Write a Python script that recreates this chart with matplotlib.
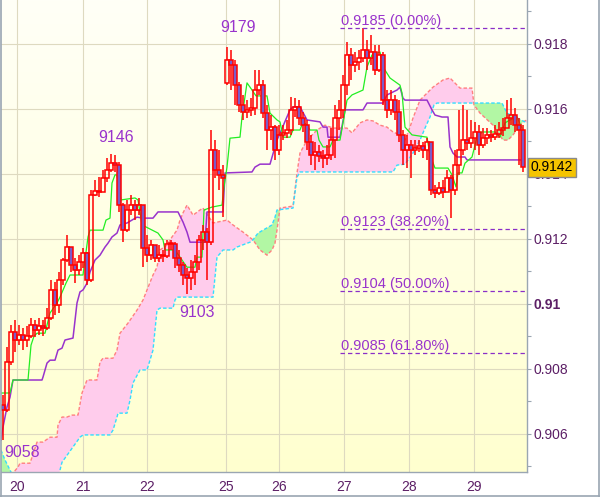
#!/usr/bin/env python3

"""
Hourly candles with ichimoku lines, cloud and fibo levels
"""

import numpy as np
import matplotlib.pyplot as plt
from matplotlib.lines import Line2D
from matplotlib.colors import LinearSegmentedColormap
from matplotlib.ticker import FixedLocator, FixedFormatter

plt.rcParams["font.family"] = ["Liberation Sans", "DejaVu Sans"]

#############################################################
######################### Data ##############################
#############################################################

# prices in pips (1 pip = 0.0001)
closes = [9067.3, 9082.1, 9091.3, 9088.9, 9090.4, 9088.9, 9090.1, 9093.5, 9092.0, 9093.2,
          9092.6, 9095.7, 9104.3, 9099.7, 9107.3, 9113.5, 9117.5, 9112.0, 9110.4, 9112.9,
          9115.7, 9107.3, 9133.5, 9134.7, 9134.4, 9138.7, 9141.2, 9143.3, 9142.7, 9130.4,
          9122.7, 9128.9, 9130.4, 9128.9, 9130.4, 9117.2, 9115.0, 9118.1, 9114.1, 9115.0,
          9114.7, 9118.4, 9118.4, 9114.1, 9112.0, 9108.9, 9108.0, 9109.8, 9112.9, 9119.7,
          9122.1, 9119.0, 9147.3, 9141.2, 9139.7, 9138.7, 9175.0, 9173.5, 9167.3, 9161.2,
          9159.0, 9159.7, 9160.3, 9165.8, 9167.3, 9158.7, 9153.5, 9154.4, 9147.3, 9152.0,
          9152.6, 9153.5, 9159.7, 9160.6, 9157.2, 9155.0, 9149.8, 9145.8, 9146.7, 9145.5,
          9144.9, 9145.8, 9150.4, 9157.2, 9159.7, 9167.3, 9176.6, 9173.5, 9174.4, 9175.7,
          9178.1, 9175.7, 9177.5, 9172.0, 9176.6, 9162.7, 9159.7, 9162.7, 9159.0, 9152.0,
          9147.3, 9148.9, 9147.3, 9148.0, 9148.6, 9147.3, 9149.8, 9135.0, 9134.1, 9135.7,
          9134.4, 9138.7, 9135.0, 9142.7, 9147.3, 9150.4, 9149.5, 9151.0, 9152.9, 9148.9,
          9151.0, 9152.0, 9151.4, 9152.3, 9153.5, 9154.1, 9157.2, 9158.1, 9155.0, 9153.5,
          9142.0]
highs = [9072.0, 9086.7, 9093.5, 9095.0, 9093.5, 9092.6, 9093.2, 9095.7, 9095.0, 9095.7,
         9095.0, 9098.7, 9107.3, 9106.7, 9109.8, 9114.1, 9121.2, 9116.6, 9114.1, 9115.0,
         9117.2, 9116.0, 9135.0, 9138.1, 9139.0, 9141.2, 9144.9, 9146.0, 9145.8, 9143.7,
         9131.0, 9132.0, 9133.5, 9132.0, 9132.6, 9130.4, 9121.2, 9119.7, 9116.6, 9118.1,
         9116.6, 9119.7, 9119.7, 9119.0, 9116.6, 9112.9, 9111.0, 9113.5, 9115.0, 9121.2,
         9124.3, 9123.3, 9153.5, 9150.4, 9147.3, 9142.7, 9179.0, 9178.1, 9175.0, 9168.3,
         9164.3, 9162.7, 9163.3, 9172.0, 9172.0, 9168.9, 9161.2, 9158.1, 9155.0, 9155.0,
         9155.0, 9156.6, 9163.7, 9163.3, 9162.7, 9159.0, 9156.6, 9152.0, 9149.8, 9148.9,
         9147.3, 9148.9, 9154.1, 9161.2, 9162.7, 9170.4, 9180.6, 9178.7, 9177.5, 9178.1,
         9185.0, 9181.2, 9182.7, 9179.7, 9179.7, 9177.5, 9165.8, 9165.8, 9164.3, 9162.7,
         9153.5, 9152.0, 9150.4, 9150.4, 9150.4, 9149.8, 9151.0, 9149.8, 9136.6, 9137.5,
         9138.1, 9141.2, 9139.7, 9147.3, 9159.7, 9161.2, 9159.7, 9156.6, 9156.0, 9155.0,
         9154.1, 9154.1, 9153.5, 9155.0, 9156.0, 9157.2, 9162.7, 9163.3, 9160.3, 9157.2,
         9155.0]
lows = [9058.0, 9066.7, 9081.2, 9085.2, 9087.3, 9085.8, 9086.7, 9089.5, 9089.8, 9090.4,
        9090.1, 9092.0, 9095.0, 9096.6, 9097.2, 9105.8, 9112.9, 9109.8, 9106.4, 9108.9,
        9111.0, 9105.8, 9106.7, 9133.2, 9132.9, 9134.4, 9137.5, 9140.6, 9140.6, 9128.3,
        9119.0, 9122.1, 9127.3, 9125.8, 9127.3, 9111.3, 9112.9, 9113.5, 9112.9, 9112.9,
        9112.9, 9114.1, 9116.6, 9111.0, 9109.8, 9105.8, 9103.0, 9104.3, 9105.8, 9110.4,
        9116.6, 9107.3, 9118.1, 9138.7, 9135.0, 9126.7, 9167.3, 9165.8, 9161.2, 9159.0,
        9156.6, 9157.2, 9157.8, 9158.1, 9164.3, 9157.2, 9147.3, 9150.4, 9144.3, 9145.8,
        9150.4, 9151.0, 9152.0, 9157.5, 9155.0, 9152.9, 9147.3, 9142.7, 9141.2, 9143.7,
        9141.8, 9142.7, 9144.3, 9144.9, 9153.5, 9157.2, 9164.3, 9168.9, 9171.3, 9172.0,
        9174.4, 9172.0, 9173.5, 9170.4, 9171.3, 9161.2, 9157.2, 9158.1, 9156.6, 9149.8,
        9142.7, 9141.8, 9138.7, 9145.8, 9146.7, 9144.9, 9144.3, 9133.5, 9132.6, 9133.5,
        9132.6, 9134.4, 9126.4, 9133.5, 9139.7, 9145.8, 9147.3, 9148.0, 9147.3, 9145.8,
        9148.0, 9149.3, 9149.8, 9150.4, 9151.0, 9151.7, 9154.1, 9155.0, 9152.9, 9142.7,
        9140.6]
# opens follow the previous close, except these bars (first bar, monday gap)
gap_opens = {0: 9068.9, 56: 9168.0}

# (bar, pips)
tenkan = [(-0.5, 9072.6), (1.75, 9072.6), (2.5, 9076.6), (6.25, 9076.6), (7, 9087.3),
          (7.75, 9090.1), (8.5, 9091.0), (10.5, 9091.0), (11.75, 9097.2), (13.5, 9100.3),
          (14.25, 9102.1), (15.75, 9106.4), (16.75, 9108.9), (20, 9108.9), (21.25, 9120.6),
          (21.75, 9122.7), (25, 9122.7), (25.75, 9125.8), (26.75, 9126.4), (27.25, 9137.2),
          (28, 9139.7), (28.5, 9139.7), (29.5, 9132.0), (33, 9132.6), (33.75, 9132.0),
          (34.75, 9124.3), (38.75, 9121.8), (40, 9119.7), (40.5, 9116.6), (43, 9116.6),
          (44.25, 9114.4), (46, 9111.3), (48, 9111.3), (48.5, 9114.4), (49.75, 9114.4),
          (50.25, 9128.9), (52.25, 9129.8), (54.75, 9130.4), (55.25, 9136.0), (56, 9142.1),
          (56.75, 9151.0), (59.25, 9151.3), (59.75, 9157.5), (61, 9168.0), (61.75, 9166.7),
          (63.25, 9164.0), (66, 9164.0), (66.75, 9158.7), (68.5, 9156.6), (69.25, 9156.0),
          (70, 9151.3), (71.75, 9151.3), (72.5, 9153.5), (74.25, 9153.5), (75, 9156.0),
          (76, 9155.0), (76.75, 9153.5), (78.5, 9153.5), (79, 9150.4), (80, 9148.3),
          (81.75, 9148.3), (82.5, 9150.4), (84.25, 9150.4), (86, 9162.7), (87.25, 9164.3),
          (90, 9165.8), (91, 9172.9), (92.25, 9176.6), (94.25, 9177.5), (95, 9172.9),
          (96.75, 9169.5), (99.25, 9167.3), (99.75, 9164.9), (100.5, 9154.4), (102.25, 9152.0),
          (106, 9151.3), (106.75, 9145.8), (108, 9141.8), (111.25, 9141.8), (112.25, 9139.7),
          (113.25, 9136.0), (113.75, 9140.3), (114.75, 9140.3), (115.5, 9143.3), (117.25, 9145.2),
          (118.5, 9151.3), (119.75, 9152.9), (123, 9152.9), (124.25, 9151.3), (125.5, 9155.7),
          (126.75, 9156.6), (128.5, 9157.5), (129.75, 9154.1)]

kijun = [(-0.5, 9058.1), (0, 9062.1), (1, 9068.3), (1.75, 9071.3), (2.5, 9076.6),
         (9.75, 9076.6), (10, 9077.5), (11, 9081.8), (11.75, 9082.7), (13, 9082.7),
         (13.75, 9085.8), (14.75, 9086.4), (15.5, 9088.9), (17.5, 9089.5), (18.5, 9100.3),
         (19.25, 9103.7), (20, 9104.3), (21, 9106.4), (21.75, 9109.8), (23, 9113.5),
         (24.25, 9115.0), (25.5, 9117.5), (26.25, 9118.7), (27.25, 9120.6), (28.5, 9121.8),
         (29.25, 9124.3), (31, 9124.9), (32.25, 9125.8), (33.5, 9126.7), (35, 9126.4),
         (37.5, 9126.4), (38.75, 9128.3), (43.75, 9128.3), (45, 9125.2), (46, 9122.1),
         (46.75, 9119.0), (50.5, 9119.0), (51, 9128.3), (55, 9128.3), (55.5, 9140.3),
         (62.25, 9140.6), (63, 9142.1), (64.25, 9143.0), (66.75, 9143.0), (68.5, 9150.4),
         (71.75, 9159.7), (72.5, 9160.6), (74.25, 9160.6), (76, 9156.6), (79.25, 9156.0),
         (80, 9154.4), (81, 9154.4), (81.25, 9151.3), (84.25, 9151.3), (85.5, 9159.7),
         (90, 9159.7), (91, 9161.8), (95, 9161.8), (96, 9164.3), (98.5, 9165.8),
         (99.25, 9166.7), (100, 9163.3), (100.5, 9162.7), (106, 9162.7), (107.25, 9159.7),
         (108, 9158.1), (109.75, 9157.5), (111.25, 9157.5), (111.75, 9148.3), (112.5, 9146.4),
         (113.5, 9145.2), (115.5, 9145.2), (116, 9144.3), (129.75, 9144.3)]

span_a = [(-0.5, 9045.8), (2.25, 9047.6), (3.75, 9049.8), (4.25, 9051.0), (6.75, 9051.0),
          (8.5, 9057.5), (10, 9057.5), (11.75, 9059.0), (13.5, 9059.0), (13.75, 9062.7),
          (14.75, 9065.2), (16, 9065.2), (17.25, 9065.8), (18.75, 9065.8), (19.75, 9072.6),
          (21, 9076.6), (23.5, 9076.6), (24.25, 9082.1), (25, 9083.3), (27.5, 9083.3),
          (28.5, 9085.8), (29.25, 9091.0), (31.25, 9094.1), (33.5, 9098.1), (35, 9101.2),
          (36, 9104.3), (37.5, 9108.9), (38.5, 9111.3), (39.25, 9116.6), (41, 9118.1),
          (42.25, 9120.6), (43.5, 9122.7), (44.25, 9125.8), (45, 9128.0), (46, 9130.4),
          (46.75, 9128.9), (47.5, 9127.3), (49.25, 9128.9), (50, 9129.5), (52.5, 9124.9),
          (56, 9125.8), (57.5, 9124.3), (60, 9122.1), (62.5, 9119.7), (64.25, 9116.6),
          (66, 9115.0), (67.25, 9116.6), (68, 9118.7), (68.5, 9122.7), (69.25, 9129.5),
          (72.5, 9130.1), (73.5, 9140.3), (74.25, 9146.4), (76, 9150.4), (78.5, 9153.5),
          (80.5, 9155.0), (82.5, 9154.1), (86, 9154.1), (87.25, 9152.6), (89.25, 9155.7),
          (91, 9156.6), (92.5, 9156.3), (94.25, 9155.0), (96, 9154.4), (97.5, 9152.9),
          (99.25, 9152.0), (100.5, 9150.4), (101.75, 9154.4), (102.5, 9157.2), (104.25, 9162.7),
          (107.5, 9166.7), (110, 9168.9), (111.75, 9169.5), (114.25, 9166.4), (117.25, 9166.4),
          (117.75, 9161.2), (119.25, 9158.7), (122.5, 9155.0), (125, 9150.4), (126.25, 9150.4),
          (127.5, 9152.0), (130, 9156.0), (131, 9156.6)]

span_b = [(-0.5, 9055.0), (0.5, 9052.0), (1.75, 9048.9), (4.25, 9042.7), (13, 9042.7),
          (14.25, 9048.9), (14.75, 9051.3), (19.25, 9059.0), (20, 9059.7), (26.75, 9059.7),
          (27.5, 9061.2), (28.5, 9065.2), (28.75, 9066.4), (31, 9066.4), (31.75, 9070.4),
          (32.5, 9075.7), (34.25, 9079.7), (36, 9079.7), (36.75, 9082.7), (37.5, 9085.8),
          (38.5, 9098.1), (39.25, 9098.7), (42.5, 9098.7), (43, 9101.2), (43.5, 9102.1),
          (52.5, 9102.1), (53.5, 9114.4), (55, 9116.6), (57.5, 9116.6), (58.5, 9117.5),
          (61.75, 9119.0), (62.5, 9119.7), (63.75, 9121.8), (67.25, 9124.3), (68, 9126.7),
          (68.5, 9128.9), (72.5, 9129.5), (73.5, 9139.0), (74.25, 9140.6), (97.5, 9140.6),
          (98.5, 9142.7), (100.5, 9143.0), (102.5, 9146.4), (104.25, 9150.4), (105.5, 9154.1),
          (106.75, 9157.5), (107.75, 9161.2), (108.5, 9161.8), (124.75, 9161.8), (126, 9158.7),
          (128, 9157.5), (131, 9155.7)]

day_pos = [3.5, 20, 36, 55.75, 69, 85.25, 101.5, 117.75]
day_labels = ['20', '21', '22', '25', '26', '27', '28', '29']

price_ticks = [0.906, 0.908, 0.910, 0.912, 0.914, 0.916, 0.918]
price_labels = ['0.906', '0.908', '0.91', '0.912', '0.914', '0.916', '0.918']

fib_levels = [0.9185, 0.9123, 0.9104, 0.9085]
fib_pcts = ['0.00%', '38.20%', '50.00%', '61.80%']
fib_start = 84.25

# swing labels: bar, price, text offset (points)
swings = [(27, 0.9146, (4, 12)), (56, 0.9179, (8, 14)),
          (46, 0.9103, (7, -13)), (0, 0.9058, (14, -9))]
last_price = 0.9142

#############################################################
######################### Styles ############################
#############################################################

XLIM = (-0.5, 131)
YLIM = (0.90483, 0.91935)
LabelColor = '#5c1f66'
SwingColor = '#9933cc'
FibColor = '#8a2fc8'
GridColor = '#dedac0'
FrameColor = '#9aa6b2'

################################################################
######################### Plot #################################
################################################################

fig = plt.figure(figsize=(6.0, 4.97), dpi=100)
ax = fig.add_axes([1/600, 25/497, 526/600, 472/497])

# background gradient
grad = np.linspace(0, 1, 256).reshape(-1, 1)
bg = LinearSegmentedColormap.from_list('bg', ['#fffff7', '#ffffcf'])
ax.imshow(grad, cmap=bg, aspect='auto', origin='upper',
          extent=(XLIM[0], XLIM[1], YLIM[0], YLIM[1]), zorder=0)

# cloud
ax_, ay_ = np.array(span_a).T
bx_, by_ = np.array(span_b).T
ay_ = ay_ / 1e4
by_ = by_ / 1e4
xs = np.union1d(ax_, bx_)
ya = np.interp(xs, ax_, ay_)
yb = np.interp(xs, bx_, by_)
ax.fill_between(xs, ya, yb, where=ya >= yb, interpolate=True,
                color='#ffccec', lw=0, zorder=1)
ax.fill_between(xs, ya, yb, where=yb > ya, interpolate=True,
                color='#b2f7a4', lw=0, zorder=1)
ax.plot(ax_, ay_, color='#ff8080', lw=1, dashes=(2.5, 1.5), zorder=2)
ax.plot(bx_, by_, color='#33ddff', lw=1, dashes=(2.5, 1.5), zorder=2)

# tenkan / kijun
tx, ty = np.array(tenkan).T
kx, ky = np.array(kijun).T
ax.plot(kx, ky / 1e4, color='#9933cc', lw=1.1, zorder=3)
ax.plot(tx, ty / 1e4, color='#22ee22', lw=0.9, zorder=3)

# candles
c = np.array(closes) / 1e4
h = np.array(highs) / 1e4
l = np.array(lows) / 1e4
o = np.r_[c[0], c[:-1]]
for i, v in gap_opens.items():
    o[i] = v / 1e4
x = np.arange(len(c))
top = np.maximum(o, c)
bot = np.minimum(o, c)
ax.vlines(x, top, np.maximum(h, top), color='red', lw=1.1, zorder=4)
ax.vlines(x, np.minimum(l, bot), bot, color='red', lw=1.1, zorder=4)
fills = ['none' if cc >= oo else '#7a5cc8' for oo, cc in zip(o, c)]
ax.bar(x, np.maximum(top - bot, 0.00002), bottom=bot, width=0.8,
       color=fills, edgecolor='red', linewidth=1.1, zorder=5)

# fibo levels
ax.hlines(fib_levels, fib_start, XLIM[1], colors=FibColor, lw=0.9,
          linestyles=(0, (3.5, 2.5)), zorder=6)
for lev, pct in zip(fib_levels, fib_pcts):
    ax.annotate('%.4f (%s)' % (lev, pct), (fib_start, lev),
                xytext=(1, 2), textcoords='offset points',
                ha='left', va='baseline', fontsize=10.5, color=SwingColor, zorder=7)

# swing high / low labels
for bar, p, off in swings:
    ax.annotate('%d' % round(p * 1e4), (bar, p), xytext=off,
                textcoords='offset points', ha='center', va='center',
                fontsize=11.5, color=SwingColor, zorder=7)

# axes
ax.set_xlim(XLIM)
ax.set_ylim(YLIM)
ax.set_xticks(day_pos)
ax.set_xticklabels(day_labels)
ax.yaxis.tick_right()
ax.yaxis.set_major_locator(FixedLocator(price_ticks))
ax.yaxis.set_major_formatter(FixedFormatter(price_labels))
ax.yaxis.set_minor_locator(FixedLocator([0.905, 0.907, 0.909, 0.911,
                                         0.913, 0.915, 0.917, 0.919]))
ax.tick_params(axis='x', length=0, pad=6, labelsize=10, labelcolor=LabelColor)
ax.tick_params(axis='y', which='both', length=3, width=0.8, color=FrameColor,
               pad=1.5, labelsize=10, labelcolor=LabelColor)
for lab, txt in zip(ax.get_yticklabels(), price_labels):
    if txt == '0.91':
        lab.set_fontweight('bold')
ax.grid(True, which='major', color=GridColor, lw=0.8, zorder=0.5)
ax.set_axisbelow(True)
for s in ['left', 'top']:
    ax.spines[s].set_visible(False)
for s in ['right', 'bottom']:
    ax.spines[s].set_color(FrameColor)
    ax.spines[s].set_linewidth(1.0)

# last price box (sits on top of the 0.914 label, like the original)
ax.text(1.007, last_price, '%.4f' % last_price,
        transform=ax.get_yaxis_transform(), ha='left', va='center',
        fontsize=10, color='black', zorder=10, clip_on=False,
        bbox=dict(boxstyle='square,pad=0.2', fc='#f5c400', ec='#8a8a8a', lw=1))

# outer frame
fig.add_artist(Line2D([0.5/600, 0.5/600], [0, 1], transform=fig.transFigure,
                      color=FrameColor, lw=1.2))
fig.add_artist(Line2D([598.5/600, 598.5/600], [0, 1], transform=fig.transFigure,
                      color=FrameColor, lw=1.2))
fig.add_artist(Line2D([0, 1], [1.5/497, 1.5/497], transform=fig.transFigure,
                      color=FrameColor, lw=1.2))

plt.savefig('out.png', dpi=100)
